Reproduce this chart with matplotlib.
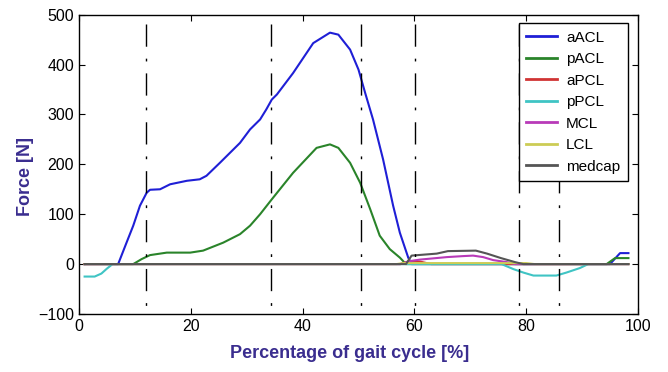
import matplotlib
matplotlib.use("Agg")
import matplotlib.pyplot as plt

plt.rcParams['font.family'] = ['Liberation Sans', 'DejaVu Sans']

# ligament forces over the gait cycle
aACL_x = [1, 7.0, 8.5, 9.7, 10.9, 12.1, 12.7, 14.5, 16.3, 19.3, 21.6, 22.8, 25.2, 28.8, 30.6,
          32.4, 33.5, 34.5, 35.4, 38.3, 41.9, 44.9, 46.4, 48.5, 50.0, 51.2, 52.6, 54.4, 56.2,
          57.4, 58.9, 59.5, 95.0, 96.8, 98.3]
aACL_y = [0, 0, 43, 77, 117, 143, 149, 150, 160, 167, 170, 177, 203, 243, 270,
          290, 310, 330, 340, 383, 443, 464, 460, 430, 390, 343, 290, 210, 117,
          63, 13, 0, 0, 22, 22]

pACL_x = [1, 9.7, 11.2, 12.7, 15.7, 19.9, 22.2, 25.8, 28.8, 30.6, 32.4, 34.5, 38.3, 42.5,
          44.9, 46.4, 48.5, 50.3, 52.1, 53.8, 55.6, 57.4, 58.5, 94.4, 95.9, 98.3]
pACL_y = [0, 0, 10, 18, 23, 23, 27, 43, 60, 77, 100, 130, 183, 233,
          240, 233, 203, 163, 110, 57, 30, 13, 0, 0, 12, 12]

aPCL_x = [1, 57.5, 58.8, 61, 63, 98.3]
aPCL_y = [0, 0, 5, 5, 0, 0]

pPCL_x = [1, 2.8, 4, 5, 6, 75.6, 77.7, 79.5, 81.3, 85.4, 87.2, 89.6, 91.1, 98.3]
pPCL_y = [-25, -25, -19, -9, 0, 0, -10, -17, -23, -23, -17, -8, 0, 0]

MCL_x = [1, 57.5, 59.2, 61, 65.8, 68.7, 70.5, 72.3, 74.1, 76.5, 78, 98.3]
MCL_y = [0, 0, 6, 9, 14, 16, 17, 14, 8, 4, 0, 0]

LCL_x = [1, 56.8, 58, 80, 81.5, 98.3]
LCL_y = [0, 0, 2, 2, 0, 0]

medcap_x = [1, 58.5, 59.5, 64, 66, 71, 73, 75.5, 78, 79.5, 98.3]
medcap_y = [0, 0, 17, 21, 26, 27, 21, 12, 4, 0, 0]

# gait event markers
events = [11.9, 34.3, 50.5, 60.2, 78.7, 85.9]
event_top, event_bottom = 481, -88

series = [
    ("aACL", aACL_x, aACL_y, "#1f1fd6"),
    ("pACL", pACL_x, pACL_y, "#2a842a"),
    ("aPCL", aPCL_x, aPCL_y, "#d03434"),
    ("pPCL", pPCL_x, pPCL_y, "#3fc4c4"),
    ("MCL", MCL_x, MCL_y, "#b83ab8"),
    ("LCL", LCL_x, LCL_y, "#cccc55"),
    ("medcap", medcap_x, medcap_y, "#555555"),
]

fig = plt.figure(figsize=(6.68, 3.72), dpi=100)
ax = fig.add_axes([0.1183, 0.156, 0.8367, 0.8045])

for name, xs, ys, col in series:
    ax.plot(xs, ys, color=col, lw=1.5, label=name)

# drawn top-down so the dash pattern starts with a long dash at the top
for ev in events:
    ax.plot([ev, ev], [event_top, event_bottom], color='k', lw=1,
            linestyle=(0, (16, 8.6, 2, 8.6)))

ax.set_xlim(0, 100)
ax.set_ylim(-100, 500)
ax.set_xticks([0, 20, 40, 60, 80, 100])
ax.set_yticks([-100, 0, 100, 200, 300, 400, 500])
ax.tick_params(direction='in', top=True, right=True, length=4, labelsize=11.5)
for s in ax.spines.values():
    s.set_linewidth(1)

lab_col = "#3a2d8f"
ax.set_xlabel("Percentage of gait cycle [%]", fontsize=13, fontweight='bold', color=lab_col)
ax.set_ylabel("Force [N]", fontsize=13, fontweight='bold', color=lab_col)
ax.xaxis.set_label_coords(0.485, -0.105)
ax.yaxis.set_label_coords(-0.08, 0.46)

leg = ax.legend(loc='upper right', bbox_to_anchor=(0.982, 0.972), fancybox=False,
                edgecolor='k', fontsize=11, handlelength=2.0, handletextpad=0.6,
                labelspacing=0.49, borderpad=0.5, borderaxespad=0, framealpha=1)
leg.get_frame().set_linewidth(1)
for h in leg.get_lines():
    h.set_linewidth(2)

fig.savefig("out.png", dpi=100)
